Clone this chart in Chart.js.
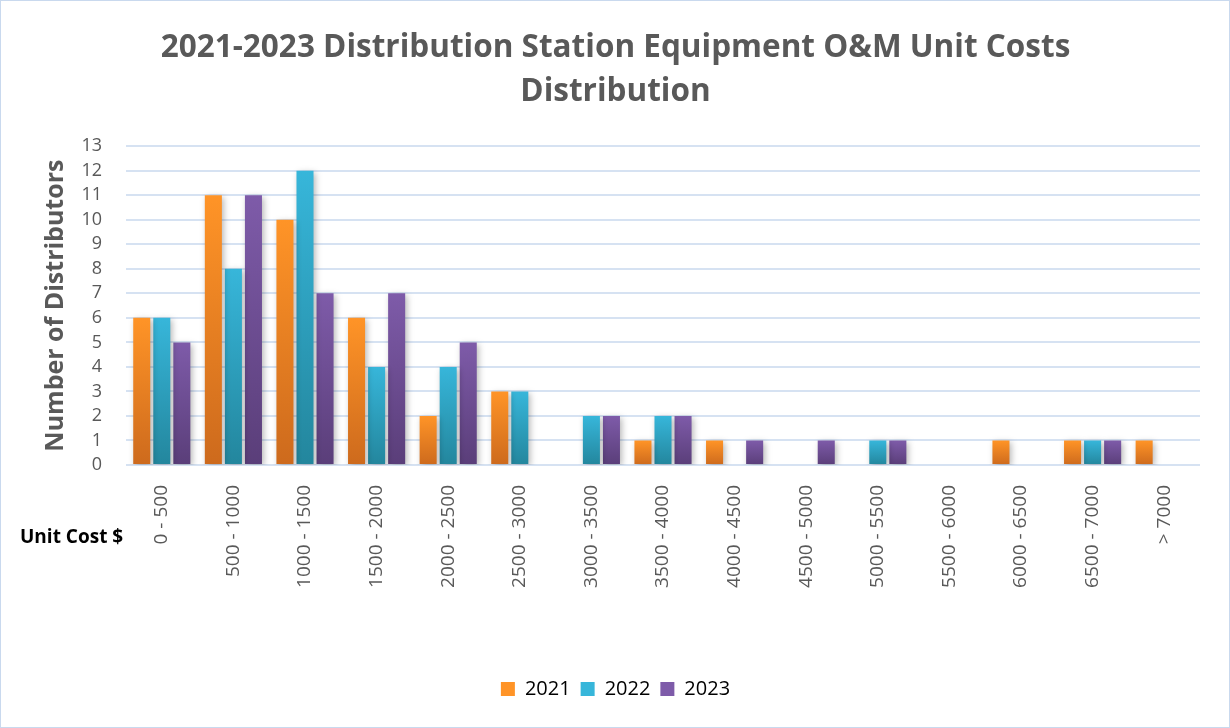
<!DOCTYPE html>
<html>
<head>
<meta charset="utf-8">
<script src="https://cdn.jsdelivr.net/npm/chart.js@4.4.1/dist/chart.umd.min.js"></script>
<style>
  html, body { margin: 0; padding: 0; background: #fff; }
  .marco { position: relative; width: 1228px; height: 726px; border: 1px solid #c9d9ee; }
</style>
</head>
<body>
<div class="marco">
  <canvas id="miGrafica" width="1228" height="726"></canvas>
</div>
<script>
// Datos de la gráfica
const categorias = ['0 - 500', '500 - 1000', '1000 - 1500', '1500 - 2000', '2000 - 2500', '2500 - 3000',
  '3000 - 3500', '3500 - 4000', '4000 - 4500', '4500 - 5000', '5000 - 5500', '5500 - 6000',
  '6000 - 6500', '6500 - 7000', '> 7000'];
const datos2021 = [6, 11, 10, 6, 2, 3, 0, 1, 1, 0, 0, 0, 1, 1, 1];
const datos2022 = [6, 8, 12, 4, 4, 3, 2, 2, 0, 0, 1, 0, 0, 1, 0];
const datos2023 = [5, 11, 7, 7, 5, 0, 2, 2, 1, 1, 1, 0, 0, 1, 0];
const ticksY = [0, 13, 1]; // min, max, paso

const colores = {
  '2021': ['#ff9427', '#cd6a1d'],
  '2022': ['#37b6da', '#23869d'],
  '2023': ['#7e5ba9', '#5a3e79']
};

// degradado por barra, de arriba hacia abajo
function degradado(serie) {
  return (context) => {
    const chart = context.chart;
    const area = chart.chartArea;
    const [arriba, abajo] = colores[serie];
    if (!area || context.type !== 'data') return arriba;
    const valor = context.raw;
    const y = chart.scales.y;
    const top = y.getPixelForValue(valor);
    const base = y.getPixelForValue(0);
    if (!(base - top > 0)) return arriba;
    const g = chart.ctx.createLinearGradient(0, top, 0, base);
    g.addColorStop(0, arriba);
    g.addColorStop(1, abajo);
    return g;
  };
}

const sombra = {
  id: 'sombra',
  beforeDatasetsDraw(chart) {
    const ctx = chart.ctx;
    ctx.save();
    ctx.shadowColor = 'rgba(0,0,0,0.28)';
    ctx.shadowBlur = 6;
    ctx.shadowOffsetX = 2;
    ctx.shadowOffsetY = 2;
  },
  afterDatasetsDraw(chart) {
    chart.ctx.restore();
  }
};

// titulo del eje x a la izquierda
const tituloX = {
  id: 'tituloX',
  afterDraw(chart) {
    const ctx = chart.ctx;
    ctx.save();
    ctx.font = 'bold 19px "Open Sans"';
    ctx.fillStyle = '#000';
    ctx.textAlign = 'left';
    ctx.textBaseline = 'middle';
    ctx.fillText('Unit Cost $', 19, 537);
    ctx.restore();
  }
};

const ctx = document.getElementById('miGrafica');

new Chart(ctx, {
  type: 'bar',
  data: {
    labels: categorias,
    datasets: [
      { label: '2021', data: datos2021, backgroundColor: degradado('2021') },
      { label: '2022', data: datos2022, backgroundColor: degradado('2022') },
      { label: '2023', data: datos2023, backgroundColor: degradado('2023') }
    ]
  },
  options: {
    responsive: false,
    animation: false,
    devicePixelRatio: 1,
    barPercentage: 0.85,
    categoryPercentage: 0.84,
    layout: { padding: { left: 30, right: 29, top: 0, bottom: 18 } },
    plugins: {
      title: {
        display: true,
        text: ['2021-2023 Distribution Station Equipment O&M Unit Costs', 'Distribution'],
        color: '#595959',
        font: { family: '"Open Sans"', size: 31.5, weight: 'bold', lineHeight: 1.4 },
        padding: { top: 25, bottom: 32 }
      },
      legend: {
        position: 'bottom',
        labels: {
          color: '#000',
          font: { family: '"Open Sans"', size: 20 },
          boxWidth: 14,
          boxHeight: 14,
          padding: 10,
          generateLabels(chart) {
            return chart.data.datasets.map((d, i) => ({
              text: d.label,
              fillStyle: colores[d.label][0],
              strokeStyle: colores[d.label][0],
              lineWidth: 0,
              datasetIndex: i
            }));
          }
        }
      },
      tooltip: { enabled: false }
    },
    scales: {
      x: {
        grid: { display: false },
        border: { display: false },
        ticks: {
          color: '#595959',
          font: { family: '"Open Sans"', size: 19 },
          minRotation: 90,
          maxRotation: 90,
          padding: 12,
          autoSkip: false
        },
        afterFit(scale) { scale.height = 204; }
      },
      y: {
        min: ticksY[0],
        max: ticksY[1],
        border: { display: false },
        grid: { color: '#d6e2f2', lineWidth: 2, drawTicks: false },
        ticks: {
          stepSize: ticksY[2],
          autoSkip: false,
          color: '#595959',
          font: { family: '"Open Sans"', size: 18 },
          padding: 24
        },
        title: {
          display: true,
          text: 'Number of Distributors',
          color: '#595959',
          font: { family: '"Open Sans"', size: 25, weight: 'bold' },
          padding: { top: 10, bottom: 6 }
        },
        afterFit(scale) { scale.width = 95; }
      }
    }
  },
  plugins: [sombra, tituloX]
});
</script>
</body>
</html>
